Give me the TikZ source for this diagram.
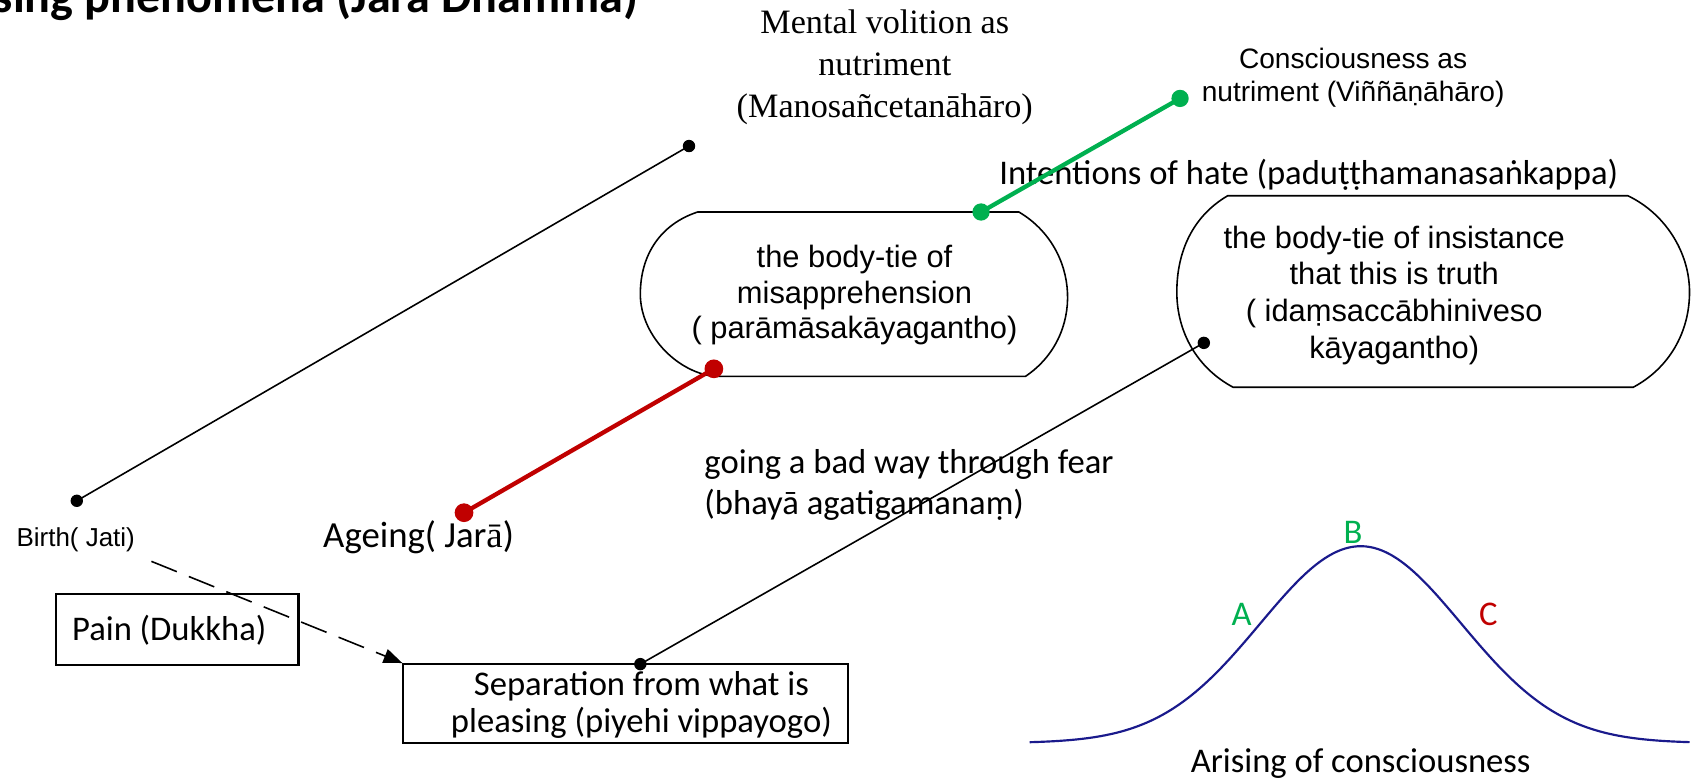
\documentclass[tikz,border=0pt]{standalone}
\usepackage{fontspec}
\setmainfont{Carlito}
\newfontfamily\arialf{Liberation Sans}
\newfontfamily\timesf{Liberation Serif}
\usetikzlibrary{arrows.meta}
\definecolor{lgreen}{HTML}{00B050}
\definecolor{dred}{HTML}{C00000}
\definecolor{navyblue}{HTML}{1A1A8C}
\newcommand{\fsz}[2]{\fontsize{#1}{#2}\selectfont}

\begin{document}
\begin{tikzpicture}[x=0.75pt,y=-0.75pt,
  txt/.style={inner sep=0pt, align=center},
  calib/.style={txt, font=\fsz{24}{25.5}},
  arial/.style={txt, font=\arialf\fsz{21.4}{24.6}},
  outline/.style={draw=black, line width=1.1pt},
  boxed/.style={draw=black, line width=1.5pt, inner sep=0pt},
  link/.style={line width=1.1pt},
  redlink/.style={dred, line width=3pt},
  greenlink/.style={lgreen, line width=3pt},
  blackdot/.style={fill=black},
  reddot/.style={fill=dred},
  greendot/.style={fill=lgreen}]

\useasboundingbox (0,0) rectangle (1568,720);
\clip (0,0) rectangle (1568,720);

% heading, partly outside the page
\node[anchor=base west, inner sep=0pt, font=\bfseries\fsz{33.4}{40}] (title) at (-6,12)
  {sing phenomena (Jara Dhamma)};

% nutriment labels
\node[txt, font=\timesf\fsz{23.7}{29.3}] (mental) at (818,62)
  {Mental volition as\\nutriment\\(Manosañcetanāhāro)};
\node[txt, font=\arialf\fsz{19.5}{23.3}] (conscious) at (1251,72)
  {Consciousness as\\nutriment (Viññāṇāhāro)};
\node[calib] (hate) at (1210,162) {Intentions of hate (paduṭṭhamanasaṅkappa)};

% body-tie of misapprehension
\draw[outline] (645,196) -- (942,196)
  .. controls (998.9,229.7) and (1002.9,311.2) .. (948,348)
  -- (660,348)
  .. controls (624,343.3) and (592,308.3) .. (592,272)
  .. controls (592,235.7) and (610.5,207.3) .. (645,196) -- cycle;
\node[arial] (misapp) at (790,273)
  {the body-tie of\\misapprehension\\( parāmāsakāyagantho)};

% body-tie of insistance
\draw[outline] (1135,181) -- (1505,181)
  .. controls (1538.8,197) and (1562,232.6) .. (1562,270)
  .. controls (1562,307.4) and (1543,340.4) .. (1510,358)
  -- (1140,358)
  .. controls (1107,340.4) and (1088,307.4) .. (1088,270)
  .. controls (1088,232.6) and (1102.7,199.9) .. (1135,181) -- cycle;
\node[arial, font=\arialf\fsz{21.4}{25.5}] (insist) at (1289,273)
  {the body-tie of insistance\\that this is truth\\( idaṃsaccābhiniveso\\kāyagantho)};

% plain labels
\node[txt, font=\arialf\fsz{18}{21}] (birth) at (70,499) {Birth( Jati)};
\node[txt, font=\fsz{25.5}{30}] (ageing) at (387,497) {Ageing( Jar{\timesf ā})};
\node[txt, align=left, anchor=west, font=\fsz{24}{28.5}] (fear) at (651,448)
  {going a bad way through fear\\(bhayā agatigamanaṃ)};

% boxes
\node[boxed, minimum width=168pt, minimum height=49.5pt] (painbox) at (164,582) {};
\node[calib] (pain) at (156.5,583) {Pain (Dukkha)};
\node[boxed, minimum width=308.3pt, minimum height=54.8pt] (sepbox) at (578.5,650.5) {};
\node[calib] (sep) at (593,652) {Separation from what is\\pleasing (piyehi vippayogo)};

% connector end points
\coordinate (birthend) at (71,463);
\coordinate (mentalend) at (637,135);
\coordinate (agend) at (429,474);
\coordinate (misend) at (660,341);
\coordinate (hateend) at (907,196);
\coordinate (consend) at (1091,91);
\coordinate (sepend) at (592,614);
\coordinate (insend) at (1113,317);
\coordinate (dashstart) at (140,519);
\coordinate (dashend) at (372,613);

% connectors
\draw[link] (birthend) -- (mentalend);
\draw[link] (sepend) -- (insend);
\draw[redlink] (agend) -- (misend);
\draw[greenlink] (hateend) -- (consend);
\draw[link, dash pattern=on 19pt off 9pt, -{Triangle[length=13pt,width=10pt]}] (dashstart) -- (dashend);

\foreach \p in {birthend,mentalend,sepend,insend}
  \fill[blackdot] (\p) circle[radius=4.3pt];
\foreach \p in {agend,misend}
  \fill[reddot] (\p) circle[radius=6.5pt];
\foreach \p in {hateend,consend}
  \fill[greendot] (\p) circle[radius=6pt];

% arising curve
\draw[navyblue, line width=1.5pt] plot[domain=952:1562, samples=160, smooth]
  (\x, {687-182*exp(-((\x-1258)/93)^2/2)});
\node[calib] (ptA) at (1148,568) {\textcolor{lgreen}{A}};
\node[calib] (ptB) at (1251,492) {\textcolor{lgreen}{B}};
\node[calib] (ptC) at (1376,568) {\textcolor{dred}{C}};
\node[calib] (arising) at (1258,706) {Arising of consciousness};
\end{tikzpicture}
\end{document}
